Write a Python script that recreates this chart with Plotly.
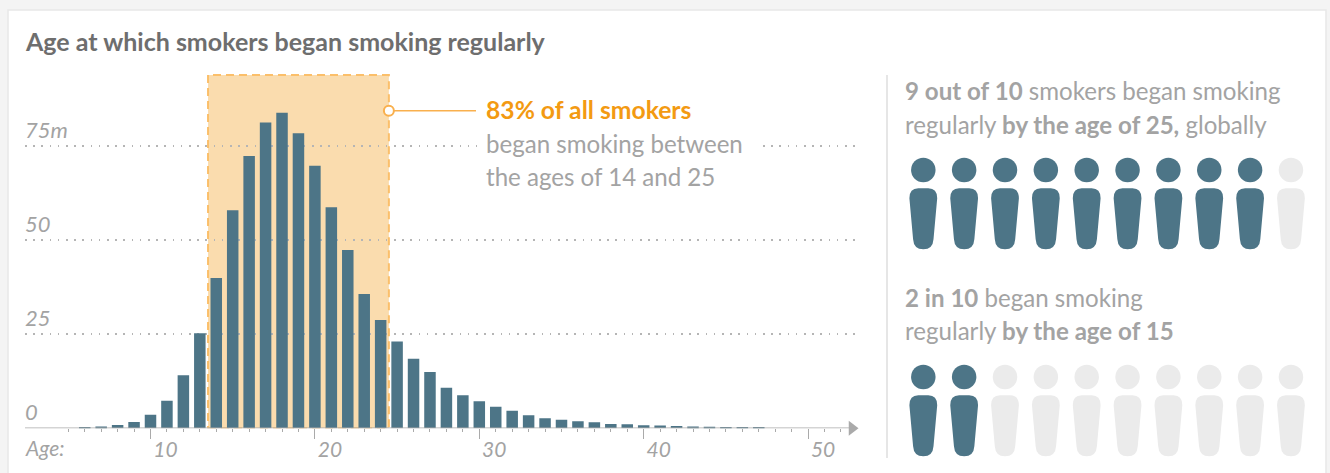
import plotly.graph_objects as go

W, H = 1330, 473
FONT = "Lato"
TEAL = "#4d7587"
PALE = "#ebebeb"
GREY = "#a3a3a3"
ORANGE = "#f39a12"

# Millions of smokers by the age at which they began smoking regularly
ages = list(range(6, 48))
smokers_m = [0.35, 0.5, 0.9, 1.7, 3.6, 7.3, 14.1, 25.3, 40, 58, 72.4, 81.3, 83.9, 78.5,
             69.8, 58.8, 47.4, 35.7, 28.8, 23.1, 18.5, 15, 10.8, 8.8, 7.2, 5.7, 4.7,
             3.5, 2.7, 2.3, 1.9, 1.6, 1.15, 1.05, 0.8, 0.75, 0.6, 0.45, 0.4, 0.3, 0.25, 0.2]
y_ticks = [0, 25, 50, 75]
y_tick_labels = ["0", "25", "50", "75m"]
x_ticks = [10, 20, 30, 40, 50]
band_ages = [13.5, 24.5]

# Pictogram rows: people coloured out of ten
row_filled = [9, 2]
row_total = [10, 10]
row_head_y = [170, 377]


def px(x):
    return x / W


def py(y):
    return 1 - y / H


# Pixel placement of the main chart's axes
X_LEFT, X_RIGHT, Y_BASE, Y_TOP = 25, 860, 428.3, 60
PX_PER_YEAR, PX_PER_M = 16.44, 3.76


def age_at(x):
    return 10 + (x - 150.5) / PX_PER_YEAR


def m_at(y):
    return (Y_BASE - y) / PX_PER_M


fig = go.Figure()

fig.add_trace(go.Bar(x=ages, y=smokers_m, width=0.7, marker=dict(color=TEAL, line_width=0),
                     xaxis="x", yaxis="y", hoverinfo="x+y"))

# Baseline with its arrowhead
fig.add_trace(go.Scatter(x=[age_at(X_LEFT), age_at(850)], y=[0, 0], mode="lines",
                         line=dict(color="#aaaaaa", width=1.5), xaxis="x", yaxis="y",
                         hoverinfo="skip", cliponaxis=False))
fig.add_trace(go.Scatter(x=[age_at(852)], y=[0], mode="markers",
                         marker=dict(symbol="triangle-right", size=13, color="#aaaaaa"),
                         xaxis="x", yaxis="y", hoverinfo="skip", cliponaxis=False))

# Leader from the shaded band to its label
fig.add_trace(go.Scatter(x=[band_ages[1], age_at(476)], y=[m_at(110.7)] * 2, mode="lines",
                         line=dict(color="#f9b04e", width=1.5), xaxis="x", yaxis="y",
                         hoverinfo="skip"))
fig.add_trace(go.Scatter(x=[band_ages[1]], y=[m_at(110.7)], mode="markers",
                         marker=dict(size=10, color="white", line=dict(color="#f9b04e", width=2)),
                         xaxis="x", yaxis="y", hoverinfo="skip"))

shapes = [
    # Card and divider
    dict(type="rect", xref="paper", yref="paper", x0=px(8), x1=px(1326), y0=py(H + 5), y1=py(10),
         fillcolor="white", line=dict(color="#e8e8e8", width=1.5), layer="below"),
    dict(type="line", xref="paper", yref="paper", x0=px(887), x1=px(887), y0=py(75), y1=py(458),
         line=dict(color="#e6e6e6", width=2), layer="below"),
    # Ages 14 to 24 highlight
    dict(type="rect", xref="x", yref="y", x0=band_ages[0], x1=band_ages[1], y0=0, y1=m_at(75),
         fillcolor="#fadcae", line=dict(color="#fbbf6a", width=2, dash="8px,5px"), layer="below"),
    # Gap in the 75m gridline behind the label
    dict(type="rect", xref="x", yref="y", x0=age_at(477), x1=age_at(759), y0=m_at(155), y1=m_at(138),
         fillcolor="white", line_width=0, layer="between"),
]

# Pictogram people: a round head marker above a tapered body
for filled, total, head_y in zip(row_filled, row_total, row_head_y):
    cols = [923.3 + 40.85 * i for i in range(total)]
    colours = [TEAL if i < filled else PALE for i in range(total)]
    fig.add_trace(go.Scatter(x=cols, y=[head_y] * total, mode="markers",
                             marker=dict(size=24.5, color=colours, line_width=0),
                             xaxis="x2", yaxis="y2", hoverinfo="skip"))
    top, bottom = head_y + 18.3, head_y + 79.3
    for cx, colour in zip(cols, colours):
        path = (f"M {cx-13.9} {top+10} Q {cx-13.9} {top} {cx-5} {top} L {cx+5} {top} "
                f"Q {cx+13.9} {top} {cx+13.9} {top+10} L {cx+10.2} {bottom-10} "
                f"Q {cx+9.6} {bottom} {cx} {bottom} Q {cx-9.6} {bottom} {cx-10.2} {bottom-10} Z")
        shapes.append(dict(type="path", xref="x2", yref="y2", path=path,
                           fillcolor=colour, line_width=0, layer="above"))


def text(x, y, s, size=24.1, color=GREY, style="normal", anchor="left"):
    return dict(x=px(x), y=py(y), xref="paper", yref="paper", text=s, showarrow=False,
                xanchor=anchor, yanchor="middle", align="left", borderpad=0,
                font=dict(family=FONT, size=size, color=color, style=style))


annotations = [
    text(24, 41, "<b>Age at which smokers began smoking regularly</b>", size=25, color="#6e6e6e"),
    text(24, 447, "Age:", size=21, style="italic"),
    text(485, 110, "<b>83% of all smokers</b>", size=24.7, color=ORANGE),
    text(485, 143, "began smoking between"),
    text(485, 176, "the ages of 14 and 25"),
    text(904, 91, "<b>9 out of 10</b> smokers began smoking"),
    text(904, 124, "regularly <b>by the age of 25,</b> globally"),
    text(904, 297, "<b>2 in 10</b> began smoking"),
    text(904, 330, "regularly <b>by the age of 15</b>"),
]
for value, label in zip(y_ticks, y_tick_labels):
    annotations.append(dict(x=px(24), xref="paper", y=value, yref="y", text=label, showarrow=False,
                            xanchor="left", yanchor="middle", yshift=16.5, borderpad=0,
                            font=dict(family=FONT, size=22, color=GREY, style="italic")))

fig.update_layout(
    width=W, height=H, margin=dict(l=0, r=0, t=0, b=0), autosize=False,
    paper_bgcolor="#f4f4f4", plot_bgcolor="rgba(0,0,0,0)", showlegend=False,
    shapes=shapes, annotations=annotations,
    xaxis=dict(domain=[px(X_LEFT), px(X_RIGHT)], range=[age_at(X_LEFT), age_at(X_RIGHT)],
               anchor="y", showgrid=False, zeroline=False, showline=False,
               tickvals=x_ticks, ticks="outside", ticklen=10, tickwidth=1, tickcolor="#aaaaaa",
               ticklabelshift=15, ticklabelstandoff=-8,
               tickfont=dict(family=FONT, size=21, color=GREY, style="italic"),
               minor=dict(tickvals=list(range(5, 53)), ticks="outside", ticklen=3, tickwidth=1,
                          tickcolor="#aaaaaa", showgrid=False)),
    yaxis=dict(domain=[py(Y_BASE), py(Y_TOP)], range=[0, m_at(Y_TOP)], anchor="x",
               tickvals=y_ticks[1:], showticklabels=False, ticks="", zeroline=False, showline=False,
               showgrid=True, gridcolor="#b5b5b5", gridwidth=1.5, griddash="1.5px,6.7px"),
    xaxis2=dict(domain=[0, 1], range=[0, W], anchor="y2", visible=False, fixedrange=True),
    yaxis2=dict(domain=[0, 1], range=[H, 0], anchor="x2", visible=False, fixedrange=True),
)

fig.write_html("out.html", config=dict(displayModeBar=False))
